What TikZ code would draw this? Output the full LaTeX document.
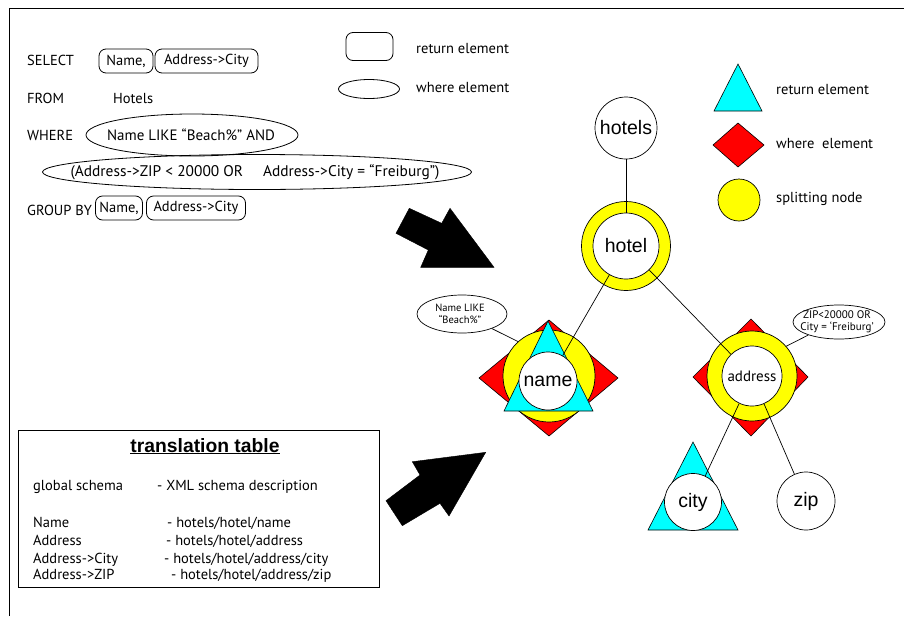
\documentclass[tikz,border=0pt]{standalone}
\usepackage{fontspec}
\setmainfont{PT Sans}
\newfontfamily\helv{Liberation Sans}
\usetikzlibrary{shapes.geometric}
\definecolor{aqua}{RGB}{0,255,255}
\definecolor{pureyellow}{RGB}{255,255,0}
\definecolor{purered}{RGB}{255,0,0}

\begin{document}
\begin{tikzpicture}[x=1pt,y=-1pt,
  txt/.style={font=\fontsize{14.5}{17}\selectfont, inner sep=0pt, anchor=base west},
  qtext/.style={font=\fontsize{15}{17}\selectfont, inner sep=0pt},
  small/.style={font=\fontsize{10.5}{11.5}\selectfont, align=center, inner sep=0pt},
  big/.style={font=\helv\fontsize{19.5}{22}\selectfont},
  retbox/.style={draw, line width=0.8pt, rounded corners=7pt, minimum height=24pt,
                 inner sep=0pt, font=\fontsize{14.5}{17}\selectfont},
  whereell/.style={draw, line width=0.8pt, ellipse, inner sep=0pt},
  ring/.style={circle, draw, line width=0.7pt, fill=pureyellow, inner sep=0pt},
  inner/.style={circle, draw, line width=0.7pt, fill=white, inner sep=0pt},
  redshape/.style={draw, line width=0.6pt, fill=purered},
  cyanshape/.style={draw, line width=0.6pt, fill=aqua},
  conn/.style={line width=0.7pt},
  bigarrow/.style={fill=black, draw=black, line width=0.4pt}]

\useasboundingbox (0,0) rectangle (904,616);

% outer frame
\draw[line width=1pt] (9,616) -- (9,8) -- (904,8);

% ---------- query ----------
\node[txt] (sel) at (27,65) {SELECT};
\node[retbox, minimum width=54pt] (selName) at (126,61) {Name,};
\node[retbox, minimum width=103pt] (selCity) at (206.5,61) {Address->City};

\node[txt] (from) at (27,103) {FROM};
\node[txt] (hotelsTxt) at (113,103) {Hotels};

\node[txt] (where) at (27,140) {WHERE};
\node[whereell, minimum width=212pt, minimum height=42pt] (w1) at (192,135) {};
\node[qtext] (w1t) at (191,135) {Name LIKE “Beach\%” AND};
\node[whereell, minimum width=429pt, minimum height=35pt] (w2) at (257,172) {};
\node[qtext, font=\fontsize{15.4}{17}\selectfont] (w2t) at (255,172)
  {(Address->ZIP < 20000 OR\hspace{20pt}Address->City = “Freiburg”)};

\node[txt] (grp) at (27,215) {GROUP BY};
\node[retbox, minimum width=47pt] (grpName) at (119,208) {Name,};
\node[retbox, minimum width=99pt] (grpCity) at (196,208) {Address->City};

% ---------- legend (query) ----------
\node[retbox, minimum width=47pt, minimum height=28pt] (legBox) at (369.5,46.5) {};
\node[txt] (legRet) at (416,53) {return element};
\node[whereell, minimum width=61pt, minimum height=19pt] (legEll) at (369,89) {};
\node[txt] (legWhere) at (416,92) {where element};

% ---------- legend (tree) ----------
\draw[cyanshape] (738,64) -- (762,111) -- (714,111) -- cycle;
\node[txt] (lgRet) at (776,94) {return element};
\draw[redshape] (738,123) -- (764,145) -- (738,167) -- (713,145) -- cycle;
\node[txt] (lgWhere) at (776,148) {where\ \ element};
\node[ring, minimum size=42pt] (lgSplit) at (739,200) {};
\node[txt] (lgSplitTxt) at (776,202) {splitting node};

% ---------- arrows ----------
\fill[bigarrow] (409.3,208.3) -- (441.7,223.3) -- (450,208.3) -- (494,267.3)
  -- (420.7,267.3) -- (428.3,250) -- (396,233.3) -- cycle;
\fill[bigarrow] (386,500.7) -- (420,475) -- (412.3,461.7) -- (485.7,452.3)
  -- (449,516) -- (440,503.3) -- (402.3,525.7) -- cycle;

% ---------- translation table ----------
\node[draw, line width=0.8pt, minimum width=361pt, minimum height=157pt, inner sep=0pt]
  (tt) at (198.5,508.5) {};
\node[font=\helv\bfseries\fontsize{19.3}{21}\selectfont, inner sep=0pt, anchor=base]
  (ttTitle) at (205,452) {\underline{translation table}};
\node[txt] (r1a) at (33,490) {global schema};
\node[txt] (r1b) at (157,490) {- XML schema description};
\node[txt] (r2a) at (33,527) {Name};
\node[txt] (r2b) at (167,527) {- hotels/hotel/name};
\node[txt] (r3a) at (33,545) {Address};
\node[txt] (r3b) at (166,545) {- hotels/hotel/address};
\node[txt] (r4a) at (33,563) {Address->City};
\node[txt] (r4b) at (164,563) {- hotels/hotel/address/city};
\node[txt] (r5a) at (33,579) {Address->ZIP};
\node[txt] (r5b) at (171,579) {- hotels/hotel/address/zip};

% ---------- tree ----------
\node[inner, minimum size=62pt, big] (hotelsN) at (626,128) {hotels};

\node[ring, minimum size=89pt] (hotelRing) at (626,246) {};
\node[inner, minimum size=66pt, big] (hotelIn) at (626,246) {hotel};

% name: where + splitting + return element
\draw[redshape] (549,320) -- (618,378) -- (549,436) -- (479,378) -- cycle;
\node[ring, minimum size=92pt] (nameRing) at (549,376) {};
\draw[cyanshape] (548,321) -- (593,411) -- (504,411) -- cycle;
\node[inner, minimum size=58pt, big] (nameIn) at (548,381) {name};
\node[whereell, line width=0.7pt, minimum width=90pt, minimum height=38pt] (nameWhere) at (462,314) {};
\node[small] (nameWhereT) at (460,314) {Name LIKE\\“Beach\%”};

% address: where + splitting
\draw[redshape] (751,319) -- (808,377) -- (751,436) -- (693,377) -- cycle;
\node[ring, minimum size=90pt] (addrRing) at (752,376) {};
\node[inner, minimum size=60pt, font=\fontsize{15}{17}\selectfont] (addrIn) at (752,376) {address};
\node[whereell, line width=0.7pt, minimum width=92pt, minimum height=34pt] (addrWhere) at (839,322) {};
\node[small, font=\fontsize{11}{12}\selectfont] (addrWhereT) at (837,322) {ZIP<20000 OR\\City = ‘Freiburg’};

% city: return element
\draw[cyanshape] (693,442) -- (738,530) -- (648,530) -- cycle;
\node[inner, minimum size=57pt, big] (cityIn) at (693,502) {city};

% zip
\node[inner, minimum size=58pt, big] (zipIn) at (806,501) {zip};

% connectors
\draw[conn] (hotelsN) -- (hotelIn);
\draw[conn] (hotelIn) -- (nameIn);
\draw[conn] (hotelIn) -- (addrIn);
\draw[conn] (addrIn) -- (cityIn);
\draw[conn] (addrIn) -- (zipIn);
\draw[conn] (nameWhere.-26) -- (nameRing.132);
\draw[conn] (addrWhere.203) -- (addrRing.41);

\end{tikzpicture}
\end{document}
